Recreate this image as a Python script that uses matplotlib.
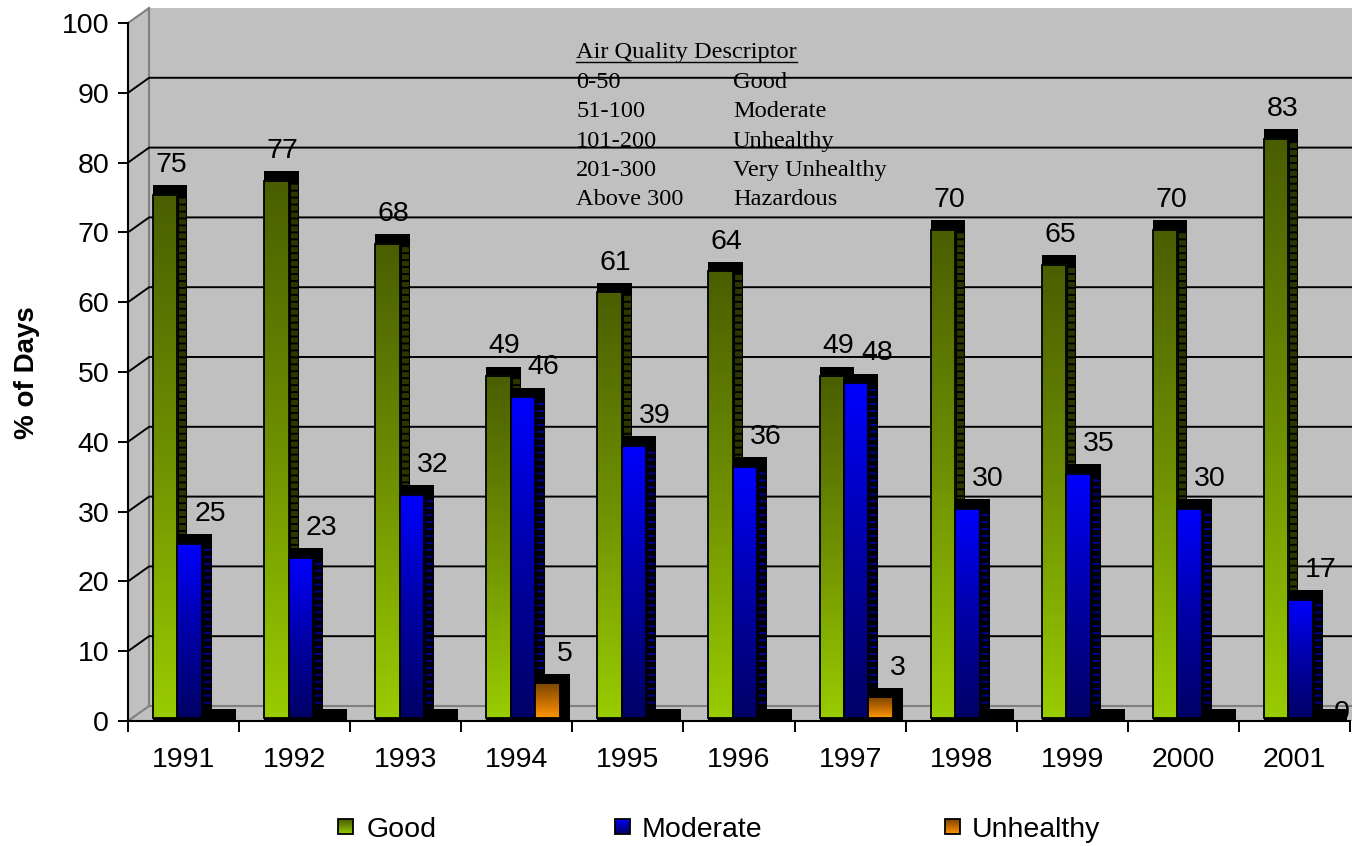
import numpy as np
import matplotlib
matplotlib.use("Agg")
import matplotlib.pyplot as plt
from matplotlib.colors import LinearSegmentedColormap
from matplotlib.patches import Rectangle, Polygon
from matplotlib.transforms import IdentityTransform

# data (% of days per air quality class)
years = ['1991', '1992', '1993', '1994', '1995', '1996',
         '1997', '1998', '1999', '2000', '2001']
good = [75, 77, 68, 49, 61, 64, 49, 70, 65, 70, 83]
moderate = [25, 23, 32, 46, 39, 36, 48, 30, 35, 30, 17]
unhealthy = [None, None, None, 5, None, None, 3, None, None, None, 0]
series_names = ['Good', 'Moderate', 'Unhealthy']

aqi_ranges = ['0-50', '51-100', '101-200', '201-300', 'Above 300']
aqi_desc = ['Good', 'Moderate', 'Unhealthy', 'Very Unhealthy', 'Hazardous']

W, H = 1352, 846
plt.rcParams['font.family'] = ['Liberation Sans', 'DejaVu Sans']
plt.rcParams['lines.scale_dashes'] = False

WALL = '#c0c0c0'
EDGE = '#808080'
DX_WALL, DY_WALL = 0.19, 2.15     # depth of the back wall
XR = 11.05
BAR_W, BAR_OFF = 0.22, 0.225
DX, DY = 0.09, 1.36               # depth of each column
BASE = 0.4
FS = 20.5

# top colour last: gradient is dark at the top
cmaps = [
    LinearSegmentedColormap.from_list('good', ['#99cc00', '#6f9000', '#4a5e00']),
    LinearSegmentedColormap.from_list('mod', ['#000066', '#0000a8', '#0000ff']),
    LinearSegmentedColormap.from_list('unh', ['#ff9900', '#c06a00', '#7a4600']),
]
side_dash = [('#2a3800', (3.6, 1.4), 5.0), ('#000090', (1.4, 3.6), 5.0), (None, None, 0)]
label_shift = [0.01, 0.14, 0.11]
GRAD = np.linspace(0, 1, 256).reshape(-1, 1)

fig = plt.figure(figsize=(W / 100, H / 100), dpi=100)
ax = fig.add_axes([128 / W, 1 - 721 / H, 1222 / W, 698 / H])
ax.patch.set_visible(False)

# 3d walls
for poly in ([(0, 0), (DX_WALL, DY_WALL), (XR, DY_WALL), (XR, 0)],
             [(0, 0), (DX_WALL, DY_WALL), (DX_WALL, 100 + DY_WALL), (0, 100)],
             [(DX_WALL, DY_WALL), (XR, DY_WALL), (XR, 100 + DY_WALL), (DX_WALL, 100 + DY_WALL)]):
    ax.add_patch(Polygon(poly, closed=True, fc=WALL, ec='none', zorder=0.5, clip_on=False))
ax.plot([0, DX_WALL, XR], [0, DY_WALL, DY_WALL], color=EDGE, lw=1.5, zorder=0.6, clip_on=False)
ax.plot([DX_WALL, DX_WALL], [DY_WALL, 100 + DY_WALL], color=EDGE, lw=1.5, zorder=0.6, clip_on=False)
ax.plot([0, DX_WALL], [100, 100 + DY_WALL], color=EDGE, lw=1.5, zorder=0.6, clip_on=False)
for v in range(10, 100, 10):
    ax.plot([0, DX_WALL, XR], [v, v + DY_WALL, v + DY_WALL], color='black',
            lw=1.4, zorder=1.5, clip_on=False)

# descriptor table on the back wall (under the gridlines)
def fx(px):
    return px / W

def fy(py):
    return 1 - py / H

t_title = ax.text(fx(576), fy(58), 'Air Quality Descriptor', transform=fig.transFigure,
                  family='Liberation Serif', fontsize=17.6, va='baseline', zorder=1)
for k, (r, d) in enumerate(zip(aqi_ranges, aqi_desc)):
    yb = 88 + 29.3 * k
    ax.text(fx(576), fy(yb), r, transform=fig.transFigure, family='Liberation Serif',
            fontsize=17.6, va='baseline', zorder=1)
    ax.text(fx(733), fy(yb), d, transform=fig.transFigure, family='Liberation Serif',
            fontsize=17.6, va='baseline', zorder=1)

# columns
all_series = [good, moderate, unhealthy]
for i in range(len(years)):
    for j, vals in enumerate(all_series):
        v = vals[i]
        x = i + BAR_OFF + j * BAR_W
        top = (v or 0) + BASE
        ax.add_patch(Rectangle((x, -0.3), BAR_W + DX, top + DY + 0.3,
                               fc='black', ec='none', zorder=3))
        if v:
            ax.imshow(GRAD, extent=(x, x + BAR_W, BASE, top), cmap=cmaps[j],
                      aspect='auto', origin='lower', interpolation='bilinear', zorder=3)
            ax.add_patch(Rectangle((x, BASE), BAR_W, v, fill=False, ec='black',
                                   lw=1.3, zorder=3))
            col, dash, lw = side_dash[j]
            if col:
                ax.plot([x + BAR_W + DX / 2] * 2, [BASE + 0.2, top - 0.3], color=col,
                        lw=lw, dashes=dash, solid_capstyle='butt', zorder=3)
        if v is not None:
            # a zero label sits low and is partly hidden by its column
            yl = top + DY + 1.9 if v else BASE - 0.3
            ax.text(x + (BAR_W + DX) / 2 + label_shift[j], yl, str(v),
                    ha='center', va='baseline', fontsize=FS, zorder=6 if v else 2)

ax.set_xlim(0, 11)
ax.set_ylim(0, 100)
for s in ('top', 'right'):
    ax.spines[s].set_visible(False)
for s in ('left', 'bottom'):
    ax.spines[s].set_linewidth(1.5)
    ax.spines[s].set_zorder(4)

ax.set_yticks(range(0, 101, 10))
ax.tick_params(axis='y', length=7.5, width=1.4, labelsize=FS, pad=6)
ax.set_xticks(np.arange(0, 12))
ax.tick_params(axis='x', which='major', length=8, width=1.4, labelbottom=False)
ax.set_xticks(np.arange(11) + 0.5, minor=True)
ax.set_xticklabels(years, minor=True)
ax.tick_params(axis='x', which='minor', length=0, pad=18.5, labelsize=FS)

fig.text(fx(27), fy(373), '% of Days', rotation=90, ha='center', va='center',
         fontsize=20, fontweight='bold')

# legend
lg = fig.add_axes([0, 0, 1, 1])
lg.set_xlim(0, W)
lg.set_ylim(H, 0)
lg.axis('off')
for name, cm, sx, tx in zip(series_names, cmaps, [338, 615, 945], [367, 642, 972]):
    lg.imshow(GRAD, extent=(sx, sx + 15, 834, 819), cmap=cm, aspect='auto',
              origin='lower', interpolation='bilinear')
    lg.add_patch(Rectangle((sx, 819), 15, 15, fill=False, ec='black', lw=1.3))
    lg.text(tx, 837, name, fontsize=FS, va='baseline')
lg.set_xlim(0, W)
lg.set_ylim(H, 0)

# underline of the descriptor title
fig.canvas.draw()
bb = t_title.get_window_extent(renderer=fig.canvas.get_renderer())
ax.plot([bb.x0, bb.x1], [H - 62, H - 62], color='black', lw=1.0,
        transform=IdentityTransform(), zorder=1, clip_on=False)

fig.savefig('out.png', dpi=100)
